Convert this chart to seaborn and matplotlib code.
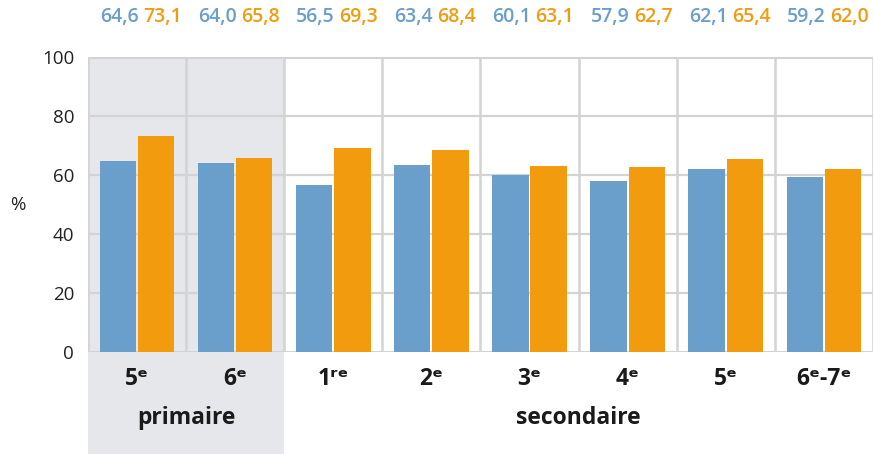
import matplotlib
matplotlib.use("Agg")
import matplotlib.pyplot as plt
import matplotlib.transforms as mtransforms
from matplotlib.patches import Rectangle
import seaborn as sns
import pandas as pd

categories = ["5ᵉ", "6ᵉ", "1ʳᵉ", "2ᵉ", "3ᵉ", "4ᵉ", "5ᵉ ", "6ᵉ-7ᵉ"]
series_names = ["A", "B"]
values_a = [64.6, 64.0, 56.5, 63.4, 60.1, 57.9, 62.1, 59.2]
values_b = [73.1, 65.8, 69.3, 68.4, 63.1, 62.7, 65.4, 62.0]
groups = ["primaire", "secondaire"]
group_spans = [(0, 1), (2, 7)]
yticks = [0, 20, 40, 60, 80, 100]

BLUE = "#6a9ecb"
ORANGE = "#f29b0f"
GRID = "#d3d3d3"
SHADE = "#e6e7ea"

sns.set_theme(style="white")
plt.rcParams["font.family"] = ["Open Sans", "DejaVu Sans"]

df = pd.DataFrame({
    "cat": categories * 2,
    "serie": [series_names[0]] * len(categories) + [series_names[1]] * len(categories),
    "val": values_a + values_b,
})

fig = plt.figure(figsize=(8.74, 4.54), dpi=100)
ax = fig.add_axes([0.1007, 0.2247, 0.898, 0.6498])

# shaded primaire region
trans = mtransforms.blended_transform_factory(ax.transData, ax.transAxes)
s0, s1 = group_spans[0]
ax.add_patch(Rectangle((s0 - 0.5, -0.35), s1 - s0 + 1, 1.35, transform=trans,
                       facecolor=SHADE, edgecolor="none", clip_on=False, zorder=0))

sns.barplot(data=df, x="cat", y="val", hue="serie", order=categories,
            palette=[BLUE, ORANGE], width=0.78, gap=0.05, ax=ax,
            legend=False, zorder=3, saturation=1, linewidth=0)

ax.set_xlim(-0.5, len(categories) - 0.5)
ax.set_ylim(0, 100)
ax.set_yticks(yticks)
ax.set_yticklabels([str(v) for v in yticks], fontsize=13.5, color="#222222")
ax.tick_params(axis="y", length=0, pad=10)
ax.tick_params(axis="x", length=0, pad=11)
ax.set_xticks(range(len(categories)))
ax.set_xticklabels([c.strip() for c in categories], fontsize=16.5, fontweight="bold",
                   color="#1a1a1a")
ax.set_xlabel("")
ax.set_ylabel("")
ax.set_facecolor("none")
for sp in ax.spines.values():
    sp.set_visible(False)

# grid
for y in yticks:
    ax.axhline(y, color=GRID, lw=2.2 if y in (0, 100) else 1.6, zorder=1)
for i in range(len(categories) + 1):
    ax.axvline(i - 0.5, color=GRID, lw=1.8, zorder=1)

# value labels
for i, (a, b) in enumerate(zip(values_a, values_b)):
    ax.text(i - 0.18, 1.135, f"{a:.1f}".replace(".", ","), transform=trans,
            ha="center", va="center", fontsize=14, fontweight="semibold", color=BLUE)
    ax.text(i + 0.26, 1.135, f"{b:.1f}".replace(".", ","), transform=trans,
            ha="center", va="center", fontsize=14, fontweight="semibold", color=ORANGE)

# group labels
for g, (s, e) in zip(groups, group_spans):
    ax.text((s + e) / 2, -0.225, g, transform=trans, ha="center", va="center",
            fontsize=16.5, fontweight="bold", color="#1a1a1a")

fig.text(18 / 874, 1 - 205 / 454, "%", ha="center", va="center", fontsize=13.5,
         color="#222222")

fig.savefig("out.png", dpi=100)
